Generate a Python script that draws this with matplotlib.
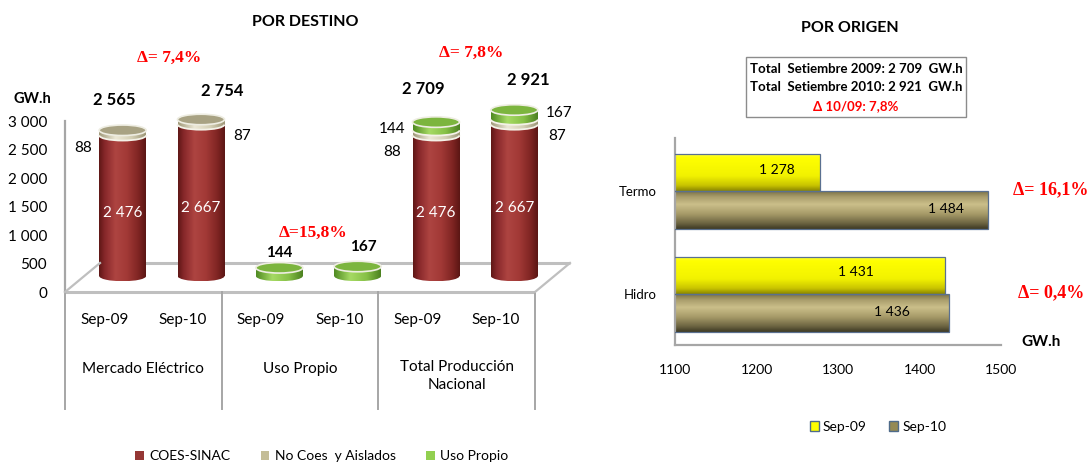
import numpy as np
import matplotlib
matplotlib.use('Agg')
import matplotlib.pyplot as plt
from matplotlib.patches import Ellipse, Arc, Rectangle, Patch
from matplotlib.colors import LinearSegmentedColormap
import matplotlib.transforms as mtransforms

plt.rcParams['font.family'] = ['Lato', 'DejaVu Sans']

# ---------------- data ----------------
periods = ['Sep-09', 'Sep-10', 'Sep-09', 'Sep-10', 'Sep-09', 'Sep-10']
groups = ['Mercado Eléctrico', 'Uso Propio', 'Total Producción\nNacional']
coes_sinac = [2476, 2667, 0, 0, 2476, 2667]
no_coes = [88, 87, 0, 0, 88, 87]
uso_propio = [0, 0, 144, 167, 144, 167]
totals = [2565, 2754, 144, 167, 2709, 2921]
delta_destino = ['Δ= 7,4%', 'Δ=15,8%', 'Δ= 7,8%']
yticks_left = [0, 500, 1000, 1500, 2000, 2500, 3000]
legend_left = ['COES-SINAC', 'No Coes  y Aislados', 'Uso Propio']

origen = ['Hidro', 'Termo']
sep09 = [1431, 1278]
sep10 = [1436, 1484]
delta_origen = ['Δ= 0,4%', 'Δ= 16,1%']
xticks_right = [1100, 1200, 1300, 1400, 1500]
box_lines = ['Total  Setiembre 2009: 2 709  GW.h',
             'Total  Setiembre 2010: 2 921  GW.h']
box_delta = 'Δ 10/09: 7,8%'
legend_right = ['Sep-09', 'Sep-10']

# ---------------- helpers ----------------
W, H = 1091, 463
fig = plt.figure(figsize=(W / 100, H / 100), dpi=100)
fig.patch.set_facecolor('white')


def ax_at(l, t, r, b):
    return fig.add_axes([l / W, 1 - b / H, (r - l) / W, (b - t) / H])


def fpos(px, py):
    return px / W, 1 - py / H


def fmt(v):
    return f'{v:,}'.replace(',', ' ')


def grad(ax, patch, cmap, ext, direction, z):
    if direction == 'h':
        arr = np.linspace(0, 1, 256).reshape(1, -1)
    else:
        arr = np.linspace(0, 1, 256).reshape(-1, 1)
    im = ax.imshow(arr, cmap=cmap, extent=ext, aspect='auto', origin='upper',
                   zorder=z, interpolation='bicubic')
    im.set_clip_path(patch.get_path(), patch.get_transform())
    return im


cm_red = LinearSegmentedColormap.from_list('r', [(0, '#5E1715'), (0.12, '#86272A'), (0.35, '#AE4441'),
                                                 (0.6, '#A23936'), (0.85, '#7E2422'), (1, '#5A1614')])
cm_beige = LinearSegmentedColormap.from_list('b', [(0, '#A09A7A'), (0.35, '#ECE8D6'),
                                                   (0.7, '#D4CFB5'), (1, '#9C9676')])
cm_green = LinearSegmentedColormap.from_list('g', [(0, '#4F8A22'), (0.35, '#A6DA64'),
                                                   (0.7, '#86C046'), (1, '#4B8020')])
top_colors = {'r': '#B04A45', 'b': '#A8A283', 'g': '#7CB53E'}

# ---------------- left panel ----------------
S = 170.5 / 3000.0  # px per unit
axf = ax_at(65, 292 - 3000 * S, 535, 292)
axf.set_xlim(-0.5, 5.5)
axf.set_ylim(0, 3000)
axf.patch.set_visible(False)
for s in ['top', 'right', 'bottom']:
    axf.spines[s].set_visible(False)
axf.spines['left'].set_color('#A6A6A6')
axf.spines['left'].set_linewidth(1.6)
axf.set_yticks(yticks_left)
axf.set_yticklabels([fmt(v) for v in yticks_left], fontsize=11)
axf.tick_params(axis='y', length=0, pad=13)
axf.set_xticks([])

# floor
back = mtransforms.offset_copy(axf.transData, fig=fig, x=35, y=29, units='dots')
fl = dict(color='#BFBFBF', lw=2.2, solid_capstyle='butt', clip_on=False, zorder=1)
axf.plot([-0.5, 5.5], [0, 0], **fl)
axf.plot([-0.5, 5.5], [0, 0], transform=back, **fl)
for xe in (-0.5, 5.5):
    xa, ya = axf.transData.transform((xe, 0))
    xb, yb = back.transform((xe, 0))
    fig.add_artist(plt.Line2D([xa / W, xb / W], [ya / H, yb / H], color='#BFBFBF', lw=1.6,
                              transform=fig.transFigure, zorder=1))

# separators and category labels
xt = axf.get_xaxis_transform()
sep_bottom = -(409 - 292) / (3000 * S)
for xs in (-0.5, 1.5, 3.5, 5.5):
    axf.plot([xs, xs], [0, sep_bottom], transform=xt, color='#A6A6A6', lw=1.4, clip_on=False)
for i, p in enumerate(periods):
    axf.text(i, -(320 - 292) / (3000 * S), p, transform=xt, ha='center', va='center', fontsize=11)
for g, lab in enumerate(groups):
    if '\n' in lab:
        axf.text(2 * g + 0.5, -(360 - 292) / (3000 * S), lab, transform=xt, ha='center', va='top',
                 fontsize=11, linespacing=1.35)
    else:
        axf.text(2 * g + 0.5, -(369 - 292) / (3000 * S), lab, transform=xt, ha='center', va='center',
                 fontsize=11)

# bars axes (offset for 3D perspective)
y0px = 276
axb = ax_at(83.5, y0px - 3300 * S, 553.5, y0px + 300 * S)
axb.set_xlim(-0.5, 5.5)
axb.set_ylim(-300, 3300)
axb.axis('off')

bw = 0.6
eh = 10.5 / S
x = np.arange(len(periods))
z = 3
for i in range(len(periods)):
    bottom = 0
    segs = [(coes_sinac[i], cm_red, 'r'), (no_coes[i], cm_beige, 'b'), (uso_propio[i], cm_green, 'g')]
    segs = [s for s in segs if s[0] > 0]
    for k, (val, cm, key) in enumerate(segs):
        e = Ellipse((x[i], bottom), bw, eh, facecolor='none', edgecolor='none')
        axb.add_patch(e)
        grad(axb, e, cm, (x[i] - bw / 2, x[i] + bw / 2, bottom - eh / 2, bottom + eh / 2), 'h', z)
        bc = axb.bar(x[i], val, width=bw, bottom=bottom, color='none', edgecolor='none', zorder=z)
        grad(axb, bc.patches[0], cm, (x[i] - bw / 2, x[i] + bw / 2, bottom, bottom + val), 'h', z)
        if k > 0:
            axb.add_patch(Arc((x[i], bottom), bw, eh, theta1=180, theta2=360, color='#F4F2E8',
                              lw=1.3, zorder=z + 0.5))
        z += 1
        bottom += val
    key = segs[-1][2]
    axb.add_patch(Ellipse((x[i], bottom), bw, eh, facecolor=top_colors[key], edgecolor='#EEEDE2',
                          lw=1.2, zorder=z))
    z += 1
axb.set_xlim(-0.5, 5.5)
axb.set_ylim(-300, 3300)

# labels: totals (bold)
tot_off = [(-8, 30), (21, 28), (0, 15), (6, 20), (-13, 33), (14, 29.5)]
for i in range(len(periods)):
    stack = coes_sinac[i] + no_coes[i] + uso_propio[i]
    dx, dy = tot_off[i]
    axb.annotate(fmt(totals[i]), (x[i], stack), xytext=(dx * 0.72, dy * 0.72), textcoords='offset points',
                 ha='center', va='center', fontsize=12 if coes_sinac[i] else 11, fontweight='bold')
# inner white labels
for i in range(len(periods)):
    if coes_sinac[i]:
        axb.text(x[i], coes_sinac[i] * (0.447 if i % 2 == 0 else 0.45), fmt(coes_sinac[i]),
                 ha='center', va='center', color='white', fontsize=11, zorder=100)
# side labels
side = [(0, 'n', -40, -15.6), (1, 'n', 41.5, -14.5), (4, 'u', -44, -3), (4, 'n', -44, -19.6),
        (5, 'u', 45, 2), (5, 'n', 43, -14.5)]
for i, kind, dx, dy in side:
    if kind == 'n':
        val, yc = no_coes[i], coes_sinac[i] + no_coes[i] / 2
    else:
        val, yc = uso_propio[i], coes_sinac[i] + no_coes[i] + uso_propio[i] / 2
    axb.annotate(fmt(val), (x[i], yc), xytext=(dx * 0.72, dy * 0.72), textcoords='offset points',
                 ha='center', va='center', fontsize=11)

# left title & deltas
fig.text(*fpos(305, 22), 'POR DESTINO', ha='center', va='center', fontsize=11.5, fontweight='bold')
fig.text(*fpos(32, 99), 'GW.h', ha='center', va='center', fontsize=10.5, fontweight='bold')
for (px, py), t in zip([(169, 58), (313, 233), (471, 53)], delta_destino):
    fig.text(*fpos(px, py), t, ha='center', va='center', fontsize=12.5, fontweight='bold',
             color='#FF0000', family='Liberation Serif')

left_handles = [Patch(facecolor=c) for c in ['#953735', '#C4BD97', '#92D050']]
fig.legend(left_handles, legend_left, loc='center', bbox_to_anchor=fpos(322, 456), ncol=3,
           frameon=False, fontsize=10, handlelength=0.6, handleheight=0.6, handletextpad=0.4,
           columnspacing=2.2, borderpad=0)

# ---------------- right panel ----------------
axr = ax_at(675, 138, 1001, 345)
axr.set_xlim(1100, 1500)
axr.set_ylim(-0.495, 1.515)
for s in ['top', 'right']:
    axr.spines[s].set_visible(False)
for s in ['left', 'bottom']:
    axr.spines[s].set_color('#A6A6A6')
    axr.spines[s].set_linewidth(1.6)
axr.set_xticks(xticks_right)
axr.set_xticklabels([str(v) for v in xticks_right], fontsize=10)
axr.set_yticks(range(len(origen)))
axr.set_yticklabels(origen, fontsize=9.5)
axr.tick_params(length=0)
axr.tick_params(axis='x', pad=14)
axr.tick_params(axis='y', pad=13)

cm_yel = LinearSegmentedColormap.from_list('y', [(0, '#FFFF55'), (0.12, '#FFFF00'), (0.6, '#F2F200'),
                                                 (0.85, '#C9C400'), (1, '#8A8500')])
cm_olive = LinearSegmentedColormap.from_list('o', [(0, '#7A7146'), (0.15, '#A99D6B'), (0.35, '#CBBF8A'),
                                                   (0.6, '#A79B69'), (0.85, '#6C6441'), (1, '#3C3823')])
bh = 0.364
yy = np.arange(len(origen))
for vals, off, cm in [(sep09, bh / 2, cm_yel), (sep10, -bh / 2, cm_olive)]:
    bc = axr.barh(yy + off, vals, height=bh, color='none', edgecolor='#5A7090', lw=0.9, zorder=3)
    for p, v, yc in zip(bc.patches, vals, yy + off):
        grad(axr, p, cm, (0, v, yc - bh / 2, yc + bh / 2), 'v', 2)
axr.set_xlim(1100, 1500)
axr.set_ylim(-0.495, 1.515)

lab_dx = {(0, 0): -89, (0, 1): -57, (1, 0): -43, (1, 1): -42}
lab_dy = {(0, 0): 3, (0, 1): 1, (1, 0): 2, (1, 1): 1}
for j, (vals, off) in enumerate([(sep09, bh / 2), (sep10, -bh / 2)]):
    for k in range(len(origen)):
        axr.annotate(fmt(vals[k]), (vals[k], yy[k] + off),
                     xytext=(lab_dx[(k, j)] * 0.72, lab_dy[(k, j)] * 0.72), textcoords='offset points',
                     ha='center', va='center', fontsize=10, zorder=10)

fig.text(*fpos(850, 28), 'POR ORIGEN', ha='center', va='center', fontsize=11.5, fontweight='bold')
fig.text(*fpos(1041, 342), 'GW.h', ha='center', va='center', fontsize=11, fontweight='bold')
for (px, py), t in zip([(1051, 293), (1051, 190)], delta_origen):
    fig.text(*fpos(px, py), t, ha='center', va='center', fontsize=13, fontweight='bold',
             color='#FF0000', family='Liberation Serif')

# info box
bx0, by0 = fpos(745.5, 117)
fig.add_artist(Rectangle((bx0, by0), (966 - 745.5) / W, 60 / H, transform=fig.transFigure,
                         facecolor='white', edgecolor='#8C8C8C', lw=1.0))
for py, t in zip([69, 87], box_lines):
    fig.text(*fpos(856, py), t, ha='center', va='center', fontsize=9.5, fontweight='bold')
fig.text(*fpos(856, 106), box_delta, ha='center', va='center', fontsize=9.5, fontweight='bold',
         color='#FF0000')

right_handles = [Patch(facecolor='#FFFF00', edgecolor='#4F6B8A'),
                 Patch(facecolor='#948A54', edgecolor='#4F6B8A')]
fig.legend(right_handles, legend_right, loc='center', bbox_to_anchor=fpos(878, 427), ncol=2,
           frameon=False, fontsize=10, handlelength=0.65, handleheight=0.65, handletextpad=0.3,
           columnspacing=1.6, borderpad=0)

fig.savefig('out.png', dpi=100)
